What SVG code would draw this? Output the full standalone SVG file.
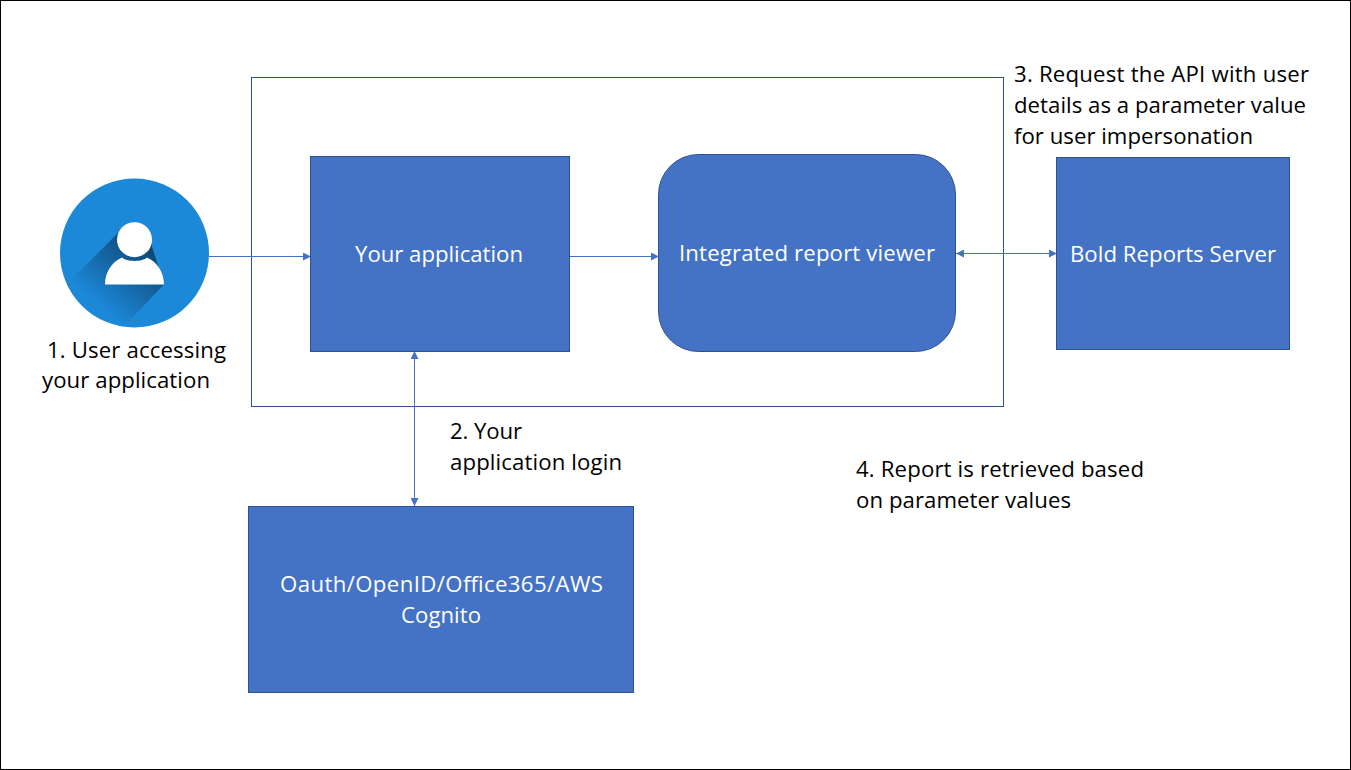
<svg xmlns="http://www.w3.org/2000/svg" width="1351" height="770" viewBox="0 0 1351 770">
<style>
.box{fill:#4472c4;stroke:#2f528f;stroke-width:1}
.conn{fill:none;stroke:#4472c4;stroke-width:1}
.w{font-family:"Open Sans","Noto Sans",sans-serif;font-size:22.2px;fill:#fff}
.k{font-family:"Open Sans","Noto Sans",sans-serif;font-size:22.2px;fill:#000}
</style>
<defs>
<marker id="a" viewBox="0 0 8 8" refX="8" refY="4" markerWidth="8" markerHeight="8" markerUnits="userSpaceOnUse" orient="auto-start-reverse"><path d="M0 0L8 4L0 8Z" fill="#4472c4"/></marker>
<linearGradient id="s" x1="160" y1="245" x2="105" y2="310" gradientUnits="userSpaceOnUse"><stop offset="0" stop-color="#0d3f68"/><stop offset="1" stop-color="#1c88d8"/></linearGradient>
<clipPath id="c"><circle cx="134.5" cy="253" r="74.5"/></clipPath>
</defs>
<rect x="0.5" y="0.5" width="1350" height="769" fill="#fff" stroke="#000"/>
<g id="container"><rect x="251.500" y="77.500" width="752" height="329" fill="none" stroke="#2f528f"/></g>
<g id="connectors">
<path class="conn" d="M209 256.500H311" marker-end="url(#a)"/>
<path class="conn" d="M570 256.500H659" marker-end="url(#a)"/>
<path class="conn" d="M956 253.500H1057" marker-start="url(#a)" marker-end="url(#a)"/>
<path class="conn" d="M414.500 351V506" marker-start="url(#a)" marker-end="url(#a)"/>
</g>
<g id="user">
<circle cx="134.500" cy="253" r="74.500" fill="#1c88d8"/>
<path clip-path="url(#c)" d="M119 232L66 285L122 328L164 284.500L150 240Z" fill="url(#s)"/>
<circle cx="134.500" cy="239.700" r="17.500" fill="#fff"/>
<path d="M105 284.500C105 272 112 262 122 257.500C126 262 143 262 147 257.500C157 262 164 272 164 284.500Z" fill="#fff"/>
</g>
<text class="k" x="47" y="358" textLength="179">1. User accessing</text>
<text class="k" x="42" y="388" textLength="168">your application</text>
<g id="your-application"><rect class="box" x="310.500" y="156.500" width="259" height="195"/><text class="w" x="355" y="262" textLength="168">Your application</text></g>
<g id="report-viewer"><rect class="box" x="658.500" y="154.500" width="297" height="197" rx="40" ry="40"/><text class="w" x="679" y="261" textLength="256">Integrated report viewer</text></g>
<g id="bold-reports-server"><rect class="box" x="1056.500" y="157.500" width="233" height="192"/><text class="w" x="1070" y="262" textLength="206">Bold Reports Server</text></g>
<g id="identity-provider"><rect class="box" x="248.500" y="506.500" width="385" height="186"/><text class="w" x="280" y="592" textLength="323">Oauth/OpenID/Office365/AWS</text><text class="w" x="401" y="623" textLength="80">Cognito</text></g>
<text class="k" x="1014" y="82" textLength="295">3. Request the API with user</text>
<text class="k" x="1014" y="113" textLength="292">details as a parameter value</text>
<text class="k" x="1014" y="144" textLength="239">for user impersonation</text>
<text class="k" x="450" y="439" textLength="72">2. Your</text>
<text class="k" x="450" y="470" textLength="172">application login</text>
<text class="k" x="856" y="477" textLength="288">4. Report is retrieved based</text>
<text class="k" x="856" y="508" textLength="215">on parameter values</text>
</svg>
